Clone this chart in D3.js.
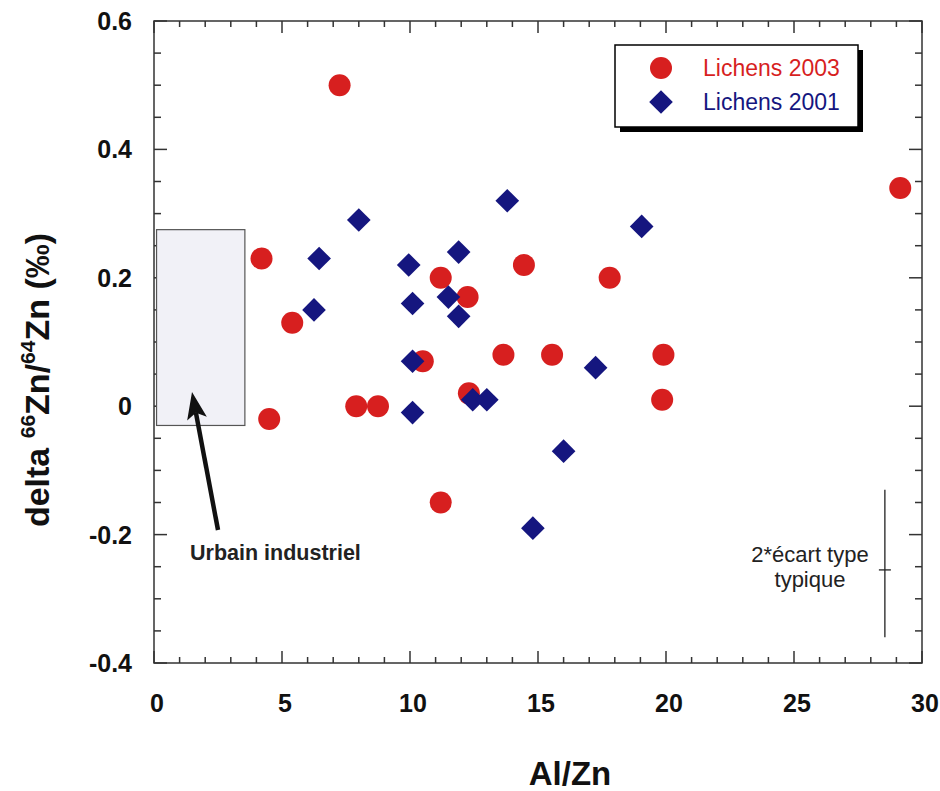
<!DOCTYPE html>
<html>
<head>
<meta charset="utf-8">
<script src="https://cdn.jsdelivr.net/npm/d3@7"></script>
<style>
  body { margin: 0; background: #fff; }
  svg { font-family: "Liberation Sans", Arial, sans-serif; }
</style>
</head>
<body>
<div id="chart"></div>
<script>
(function(){
    "use strict";

    // -> data
    var lichens2003X = [7.25, 29.15, 4.2, 5.4, 4.5, 7.9, 8.75, 10.5, 11.2, 12.25, 14.45, 13.65, 15.55, 17.8, 19.9, 19.85, 12.3, 11.2];
    var lichens2003Y = [0.50, 0.34, 0.23, 0.13, -0.02, 0.0, 0.0, 0.07, 0.20, 0.17, 0.22, 0.08, 0.08, 0.20, 0.08, 0.01, 0.02, -0.15];
    var lichens2001X = [8.0, 6.45, 6.25, 9.95, 10.1, 10.1, 10.1, 13.8, 11.9, 11.5, 11.9, 19.05, 17.25, 12.45, 13.0, 16.0, 14.8];
    var lichens2001Y = [0.29, 0.23, 0.15, 0.22, 0.16, 0.07, -0.01, 0.32, 0.24, 0.17, 0.14, 0.28, 0.06, 0.01, 0.01, -0.07, -0.19];
    var xTicks = [0, 5, 10, 15, 20, 25, 30];
    var yTicks = [0.6, 0.4, 0.2, 0, -0.2, -0.4];
    var urbainBox = {x0: 0.1, x1: 3.55, y0: -0.03, y1: 0.275};
    var errorBar = {x: 28.55, y: -0.255, top: -0.13, bottom: -0.36};

    var width = 940, height = 791;
    var margin = {top: 21, right: 18, bottom: 128, left: 154};
    var innerW = 922 - margin.left, innerH = 663 - margin.top;

    var red = "#d71f1f", navy = "#15167f";

    var svg = d3.select("#chart").append("svg")
        .attr("width", width)
        .attr("height", height);

    var g = svg.append("g")
        .attr("transform", "translate(" + margin.left + "," + margin.top + ")");

    var x = d3.scaleLinear().domain([0, 30]).range([0, innerW]),
        y = d3.scaleLinear().domain([-0.4, 0.6]).range([innerH, 0]);

    //-> frame
    g.append("rect")
        .attr("width", innerW).attr("height", innerH)
        .attr("fill", "none").attr("stroke", "#333").attr("stroke-width", 1.5);

    //-> inward ticks on all four sides
    var xMinor = d3.range(0, 31, 1), yMinor = d3.range(-0.4, 0.6001, 0.05);
    var isMajorX = function(v){ return Math.abs(v % 5) < 1e-6; };
    var isMajorY = function(v){ return Math.abs(Math.round(v * 10) / 10 - v) < 1e-6 && Math.round(v * 10) % 2 === 0; };

    xMinor.forEach(function(v){
        var len = isMajorX(v) ? 12 : 6;
        g.append("line").attr("x1", x(v)).attr("x2", x(v)).attr("y1", innerH).attr("y2", innerH - len)
            .attr("stroke", "#333").attr("stroke-width", 1.5);
        g.append("line").attr("x1", x(v)).attr("x2", x(v)).attr("y1", 0).attr("y2", len)
            .attr("stroke", "#333").attr("stroke-width", 1.5);
    });
    yMinor.forEach(function(v){
        var len = isMajorY(v) ? 13 : 7;
        g.append("line").attr("y1", y(v)).attr("y2", y(v)).attr("x1", 0).attr("x2", len)
            .attr("stroke", "#333").attr("stroke-width", 1.5);
        g.append("line").attr("y1", y(v)).attr("y2", y(v)).attr("x1", innerW).attr("x2", innerW - len)
            .attr("stroke", "#333").attr("stroke-width", 1.5);
    });

    //-> tick labels
    g.selectAll(".xlab").data(xTicks).enter().append("text")
        .attr("x", function(d){ return x(d) + 3; })
        .attr("y", innerH + 49)
        .attr("text-anchor", "middle")
        .attr("font-size", 25).attr("font-weight", "bold")
        .attr("fill", "#111")
        .text(function(d){ return d; });

    g.selectAll(".ylab").data(yTicks).enter().append("text")
        .attr("x", -22)
        .attr("y", function(d){ return y(d) + 9; })
        .attr("text-anchor", "end")
        .attr("font-size", 25).attr("font-weight", "bold")
        .attr("fill", "#111")
        .text(function(d){ return d; });

    //-> axis titles
    svg.append("text")
        .attr("x", 570).attr("y", 785)
        .attr("text-anchor", "middle")
        .attr("font-size", 33).attr("font-weight", "bold")
        .attr("fill", "#111")
        .text("Al/Zn");

    var yt = svg.append("text")
        .attr("transform", "translate(49,380)rotate(-90)")
        .attr("text-anchor", "middle")
        .attr("font-size", 34).attr("font-weight", "bold")
        .attr("fill", "#111");
    yt.append("tspan").text("delta ");
    yt.append("tspan").attr("font-size", 21).attr("dy", -14).text("66");
    yt.append("tspan").attr("dy", 14).text("Zn/");
    yt.append("tspan").attr("font-size", 21).attr("dy", -14).text("64");
    yt.append("tspan").attr("dy", 14).text("Zn (‰)");

    //-> urban industrial box
    g.append("rect")
        .attr("x", x(urbainBox.x0)).attr("y", y(urbainBox.y1))
        .attr("width", x(urbainBox.x1) - x(urbainBox.x0))
        .attr("height", y(urbainBox.y0) - y(urbainBox.y1))
        .attr("fill", "#f1f1f7").attr("stroke", "#555").attr("stroke-width", 1.2);

    //-> arrow, head drawn as a polygon along the shaft
    var tail = [218, 530], tip = [192, 392];
    var dx = tip[0] - tail[0], dy = tip[1] - tail[1], L = Math.sqrt(dx * dx + dy * dy);
    var ux = dx / L, uy = dy / L, px = -uy, py = ux;
    var headLen = 27, headHalf = 10, notch = 6;
    var base = [tip[0] - ux * headLen, tip[1] - uy * headLen];
    svg.append("line")
        .attr("x1", tail[0]).attr("y1", tail[1])
        .attr("x2", base[0] + ux * notch).attr("y2", base[1] + uy * notch)
        .attr("stroke", "#111").attr("stroke-width", 4.5);
    svg.append("path")
        .attr("d", "M" + tip[0] + "," + tip[1] +
            "L" + (base[0] + px * headHalf) + "," + (base[1] + py * headHalf) +
            "L" + (base[0] + ux * notch) + "," + (base[1] + uy * notch) +
            "L" + (base[0] - px * headHalf) + "," + (base[1] - py * headHalf) + "Z")
        .attr("fill", "#111");

    svg.append("text")
        .attr("x", 190).attr("y", 560)
        .attr("font-size", 21.5).attr("font-weight", "bold")
        .attr("fill", "#222")
        .text("Urbain industriel");

    //-> typical error bar
    var ex = x(errorBar.x);
    g.append("line")
        .attr("x1", ex).attr("x2", ex)
        .attr("y1", y(errorBar.top)).attr("y2", y(errorBar.bottom))
        .attr("stroke", "#222").attr("stroke-width", 1.3);
    g.append("line")
        .attr("x1", ex - 6).attr("x2", ex + 6)
        .attr("y1", y(errorBar.y)).attr("y2", y(errorBar.y))
        .attr("stroke", "#222").attr("stroke-width", 1.3);
    svg.append("text")
        .attr("x", 810).attr("y", 562)
        .attr("text-anchor", "middle")
        .attr("font-size", 22).attr("fill", "#222")
        .text("2*écart type");
    svg.append("text")
        .attr("x", 810).attr("y", 587)
        .attr("text-anchor", "middle")
        .attr("font-size", 22).attr("fill", "#222")
        .text("typique");

    //-> points
    var pts2003 = lichens2003X.map(function(v, i){ return {x: v, y: lichens2003Y[i]}; });
    var pts2001 = lichens2001X.map(function(v, i){ return {x: v, y: lichens2001Y[i]}; });

    g.selectAll(".c2003").data(pts2003).enter().append("circle")
        .attr("cx", function(d){ return x(d.x); })
        .attr("cy", function(d){ return y(d.y); })
        .attr("r", 11)
        .attr("fill", red);

    var diamond = d3.symbol().type(d3.symbolSquare).size(280);
    g.selectAll(".d2001").data(pts2001).enter().append("path")
        .attr("d", diamond)
        .attr("transform", function(d){ return "translate(" + x(d.x) + "," + y(d.y) + ")rotate(45)"; })
        .attr("fill", navy);

    //-> legend with drop shadow
    var lg = svg.append("g").attr("transform", "translate(615,45)");
    lg.append("rect").attr("x", 5).attr("y", 5).attr("width", 243).attr("height", 82).attr("fill", "#000");
    lg.append("rect").attr("width", 243).attr("height", 82)
        .attr("fill", "#fff").attr("stroke", "#000").attr("stroke-width", 1.5);
    lg.append("circle").attr("cx", 46).attr("cy", 23).attr("r", 11).attr("fill", red);
    lg.append("path").attr("d", diamond).attr("transform", "translate(46,57)rotate(45)").attr("fill", navy);
    lg.append("text").attr("x", 88).attr("y", 31).attr("font-size", 23).attr("fill", red).text("Lichens 2003");
    lg.append("text").attr("x", 88).attr("y", 65).attr("font-size", 23).attr("fill", navy).text("Lichens 2001");
})();
</script>
</body>
</html>
